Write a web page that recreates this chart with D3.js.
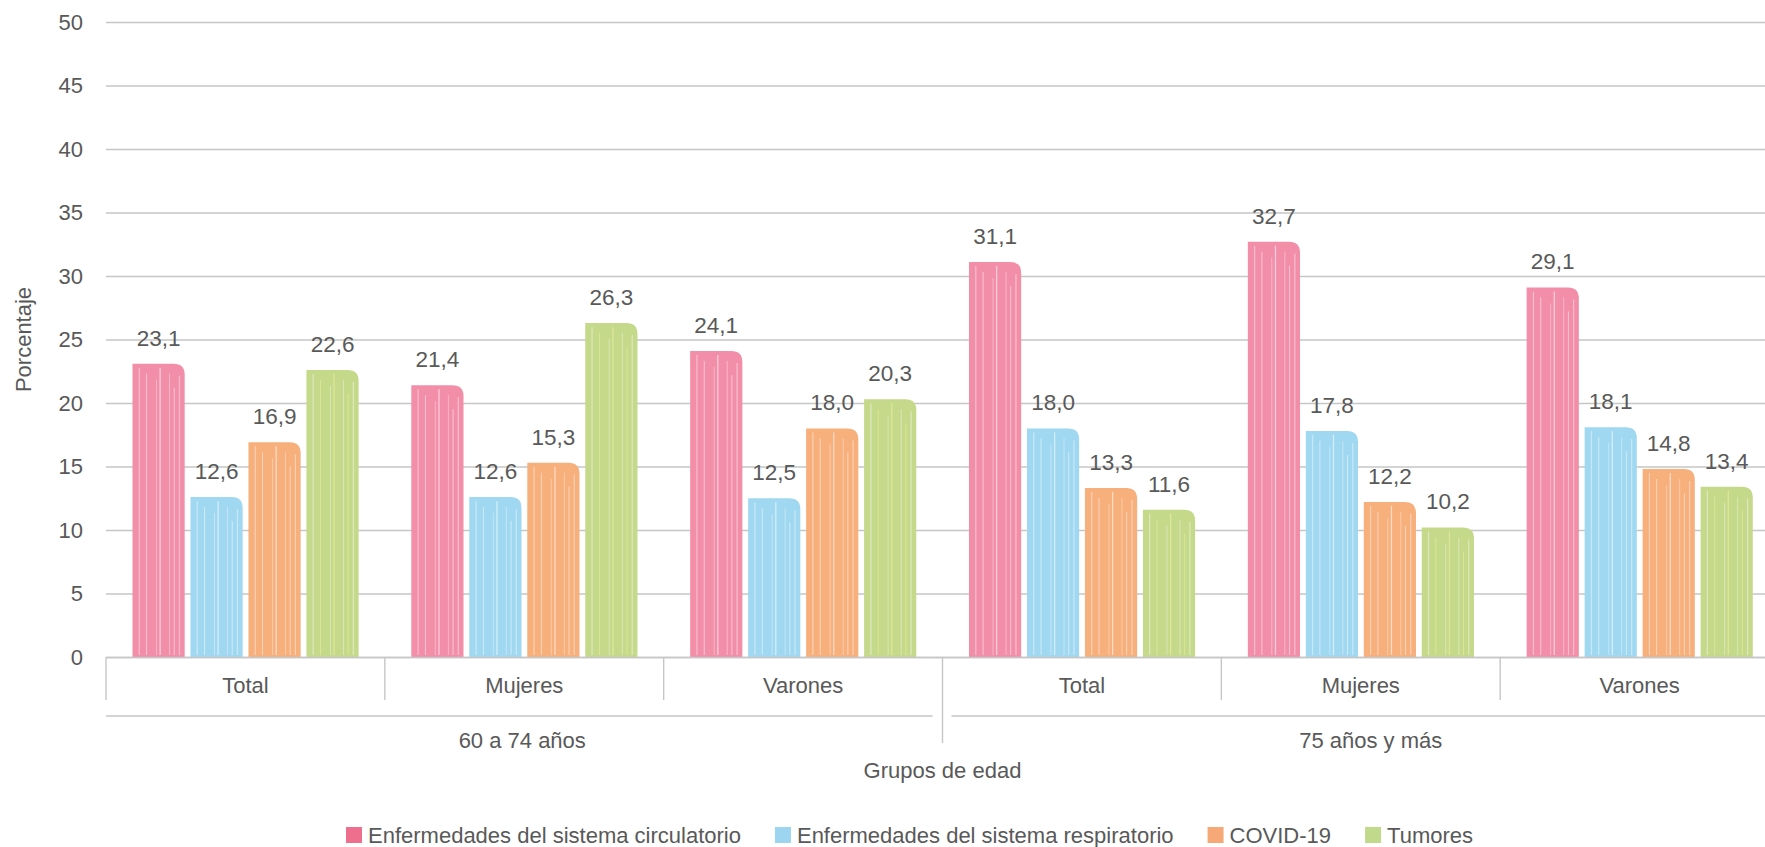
<!DOCTYPE html>
<html>
<head>
<meta charset="utf-8">
<script src="https://cdn.jsdelivr.net/npm/d3@7"></script>
<style>
  html, body { margin: 0; padding: 0; background: #fff; }
  svg text { font-family: "Liberation Sans", Arial, Helvetica, sans-serif; fill: #595959; }
</style>
</head>
<body>
<div id="chart"></div>
<script>
// data
const groups = ["60 a 74 años", "75 años y más"];
const categories = ["Total", "Mujeres", "Varones", "Total", "Mujeres", "Varones"];
const categoryGroup = [0, 0, 0, 1, 1, 1];
const seriesNames = [
  "Enfermedades del sistema circulatorio",
  "Enfermedades del sistema respiratorio",
  "COVID-19",
  "Tumores"
];
const circulatorio = [23.1, 21.4, 24.1, 31.1, 32.7, 29.1];
const respiratorio = [12.6, 12.6, 12.5, 18.0, 17.8, 18.1];
const covid = [16.9, 15.3, 18.0, 13.3, 12.2, 14.8];
const tumores = [22.6, 26.3, 20.3, 11.6, 10.2, 13.4];
const yTicks = [0, 5, 10, 15, 20, 25, 30, 35, 40, 45, 50];

const barColors = ["#F28EA8", "#A0D8F1", "#F7AF7B", "#C5D98B"];
const legendColors = ["#EE6E8D", "#9DD5F0", "#F6A977", "#C1D98A"];
const streakColors = ["#fff", "#fff", "#fff", "#f3f2a0"];

initChart();

function initChart() {
  const width = 1765;
  const height = 847;
  const margin = { left: 106, top: 22, right: -14, bottom: 190 };
  const innerWidth = width - margin.left - margin.right;
  const innerHeight = height - margin.top - margin.bottom;

  const svg = d3.select("#chart").append("svg")
    .attr("width", width)
    .attr("height", height);
  const g = svg.append("g")
    .attr("transform", `translate(${margin.left},${margin.top})`);

  const values = [circulatorio, respiratorio, covid, tumores];
  const fmt = d3.formatLocale({ decimal: ",", thousands: ".", grouping: [3], currency: ["", "€"] }).format(".1f");

  const x = d3.scaleBand().domain(d3.range(categories.length)).range([0, innerWidth]);
  const xs = d3.scaleBand().domain(d3.range(seriesNames.length))
    .range([x.bandwidth() * 0.095, x.bandwidth() * 0.906])
    .paddingInner(0.1);
  const y = d3.scaleLinear().domain([0, 50]).range([innerHeight, 0]);

  // gridlines + y labels
  const yAxis = d3.axisLeft(y).tickValues(yTicks).tickSize(-(width - margin.left)).tickPadding(23);
  const yG = g.append("g").call(yAxis);
  yG.select(".domain").remove();
  yG.selectAll(".tick line").attr("stroke", "#c6c6c6").attr("stroke-width", 1.4);
  yG.selectAll(".tick text").style("font-size", "22px").attr("fill", "#595959");

  // bars
  const bars = [];
  values.forEach((arr, s) => arr.forEach((v, i) => bars.push({ s, i, v })));
  const streaks = [0.13, 0.27, 0.46, 0.53, 0.71, 0.8, 0.9];

  const barG = g.selectAll(".bar").data(bars).join("g")
    .attr("class", "bar")
    .attr("transform", (d) => `translate(${x(d.i) + xs(d.s)},0)`);
  barG.append("path")
    .attr("fill", (d) => barColors[d.s])
    .attr("d", (d) => {
      const w = xs.bandwidth();
      const top = y(d.v);
      const h = innerHeight - top;
      const r = Math.min(11, h);
      return `M0,${innerHeight}V${top}H${w - r}Q${w},${top} ${w},${top + r}V${innerHeight}Z`;
    });
  barG.each(function (d) {
    const w = xs.bandwidth();
    const top = y(d.v);
    d3.select(this).selectAll("line").data(streaks).join("line")
      .attr("x1", (f) => f * w).attr("x2", (f) => f * w)
      .attr("y1", (f, k) => top + (f * w > w - 11 ? 12 : 4) + (k % 3) * 6)
      .attr("y2", innerHeight - 2)
      .attr("stroke", (f, k) => (k % 2 ? streakColors[d.s] : "#fff"))
      .attr("stroke-width", (f, k) => (k % 3 === 0 ? 1.3 : 0.9))
      .attr("stroke-opacity", (f, k) => (k % 2 ? 0.55 : 0.4));
  });

  // value labels
  g.selectAll(".val").data(bars).join("text")
    .attr("class", "val")
    .attr("x", (d) => x(d.i) + xs(d.s) + xs.bandwidth() / 2)
    .attr("y", (d) => y(d.v) - 18)
    .attr("text-anchor", "middle")
    .style("font-size", "22.5px")
    .text((d) => fmt(d.v));

  // x axis: categories
  const xAxis = d3.axisBottom(x).tickSize(0).tickPadding(20).tickFormat((i) => categories[i]);
  const xG = g.append("g").attr("transform", `translate(0,${innerHeight})`).call(xAxis);
  xG.select(".domain").attr("stroke", "#c6c6c6").attr("stroke-width", 1.4);
  xG.selectAll(".tick text").style("font-size", "22px").attr("fill", "#595959");

  const axisCol = "#c6c6c6";
  // category separators
  const bounds = d3.range(categories.length + 1);
  g.selectAll(".sep").data(bounds).join("line")
    .attr("class", "sep")
    .attr("x1", (b) => b * x.step()).attr("x2", (b) => b * x.step())
    .attr("y1", innerHeight)
    .attr("y2", (b) => (b === 3 ? innerHeight + 86 : innerHeight + 43))
    .attr("stroke", axisCol).attr("stroke-width", 1.4);

  // group level
  groups.forEach((name, gi) => {
    const idx = categoryGroup.map((c, i) => (c === gi ? i : -1)).filter((i) => i >= 0);
    const x0 = x(idx[0]);
    const x1 = x(idx[idx.length - 1]) + x.bandwidth();
    g.append("line")
      .attr("x1", gi === 0 ? x0 : x0 + 9)
      .attr("x2", gi === 0 ? x1 - 10 : x1)
      .attr("y1", innerHeight + 59).attr("y2", innerHeight + 59)
      .attr("stroke", axisCol).attr("stroke-width", 1.4);
    g.append("text")
      .attr("x", (x0 + x1) / 2 + (gi === 0 ? -2 : 10))
      .attr("y", innerHeight + 91)
      .attr("text-anchor", "middle")
      .style("font-size", "22px")
      .text(name);
  });

  // axis titles
  g.append("text")
    .attr("x", innerWidth / 2)
    .attr("y", innerHeight + 121)
    .attr("text-anchor", "middle")
    .style("font-size", "22px")
    .text("Grupos de edad");
  svg.append("text")
    .attr("transform", `translate(31,${margin.top + innerHeight / 2}) rotate(-90)`)
    .attr("text-anchor", "middle")
    .style("font-size", "22px")
    .text("Porcentaje");

  // legend
  const legend = svg.append("g").attr("transform", "translate(0,843)");
  let lx = 346;
  seriesNames.forEach((name, s) => {
    legend.append("rect")
      .attr("x", lx).attr("y", -16)
      .attr("width", 16).attr("height", 16)
      .attr("fill", legendColors[s]);
    const t = legend.append("text")
      .attr("x", lx + 22).attr("y", 0)
      .style("font-size", "22px")
      .text(name);
    lx += 22 + t.node().getComputedTextLength() + 34;
  });
}
</script>
</body>
</html>
